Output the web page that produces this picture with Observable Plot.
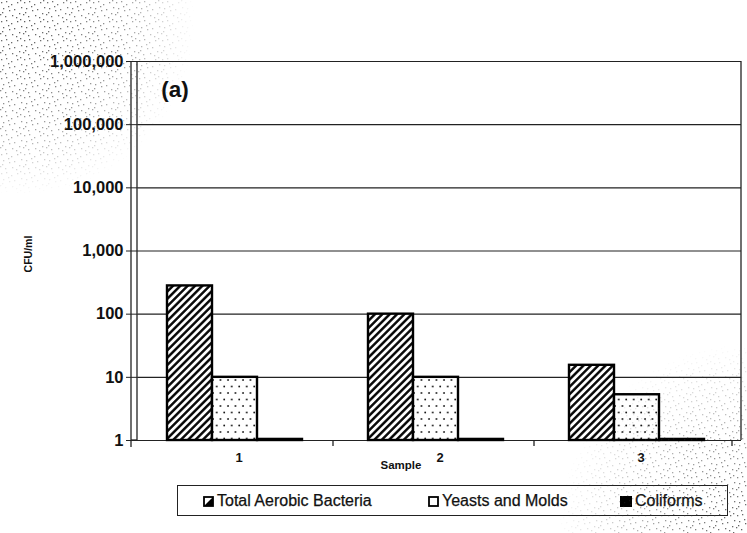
<!DOCTYPE html>
<html>
<head>
<meta charset="utf-8">
<script src="https://cdn.jsdelivr.net/npm/d3@7"></script>
<script src="https://cdn.jsdelivr.net/npm/@observablehq/plot@0.6"></script>
<style>
  body { margin: 0; background: #fff; font-family: Arial, "Liberation Sans", sans-serif; }
  #chart { position: relative; width: 747px; height: 533px; overflow: hidden; }
  #chart > svg { display: block; }
  .legend { position: absolute; left: 177px; top: 485px; width: 551px; height: 31px;
            border: 1.3px solid #222; box-sizing: border-box; font-size: 16px; color: #111;
            -webkit-text-stroke: 0.25px #111; background: #fff; }
  .legend .item { position: absolute; top: 6px; white-space: nowrap; line-height: 18px; }
  .legend .item svg { position: absolute; top: 4px; }
  .legend .item span { position: absolute; white-space: nowrap; }
  .grain { position: absolute; left: 0; top: 0; pointer-events: none; }
</style>
</head>
<body>
<div id="chart"></div>
<script>
// Microbial counts per sample (CFU/ml), log scale
const samples = ["1", "2", "3"];
const seriesNames = ["Total Aerobic Bacteria", "Yeasts and Molds", "Coliforms"];
const totalAerobicBacteria = [280, 100, 15.5];
const yeastsAndMolds = [10, 10, 5.3];
const coliforms = [1.04, 1.04, 1.04];
const yTickValues = [1, 10, 100, 1000, 10000, 100000, 1000000];
const seriesFills = ["url(#hatch)", "url(#dots)", "#000"];

const seriesValues = [totalAerobicBacteria, yeastsAndMolds, coliforms];
const rows = samples.flatMap((sample, i) =>
  seriesNames.map((series, j) => ({ sample, series, value: seriesValues[j][i] }))
);

const W = 747, H = 475;
const mLeft = 137, mRight = 6, mTop = 61, bottom = 440, mBottom = H - bottom;

const plot = Plot.plot({
  width: W,
  height: H,
  marginLeft: mLeft,
  marginRight: mRight,
  marginTop: mTop,
  marginBottom: mBottom,
  style: { fontFamily: "Arial, 'Liberation Sans', sans-serif", background: "transparent", color: "#111" },
  fx: { domain: samples, paddingInner: 0, paddingOuter: 0 },
  x: { domain: seriesNames, paddingInner: 0, paddingOuter: 0.69, align: 0.44, axis: null },
  y: { type: "log", domain: [1, 1e6] },
  color: { domain: seriesNames, range: seriesFills },
  marks: [
    Plot.gridY(yTickValues, { stroke: "#222", strokeOpacity: 1, strokeWidth: 1.1 }),
    Plot.barY(rows, {
      fx: "sample", x: "series", y1: 1, y2: "value",
      fill: "series", stroke: "#000", strokeWidth: 2.4
    }),
    Plot.axisY(yTickValues, {
      tickFormat: d3.format(","), tickSize: 12, tickPadding: 3,
      fontSize: 16.5, fontWeight: "bold", label: null, stroke: "#222"
    }),
    Plot.axisFx({ anchor: "bottom", tickSize: 0, tickPadding: 12, fontSize: 13, fontWeight: "bold", label: null })
  ]
});

const svg = d3.select(plot);

// fill patterns for the bars
const defs = svg.insert("defs", ":first-child");
const hatch = defs.append("pattern")
  .attr("id", "hatch").attr("patternUnits", "userSpaceOnUse")
  .attr("width", 5.2).attr("height", 5.2)
  .attr("patternTransform", "rotate(45)");
hatch.append("rect").attr("width", 5.2).attr("height", 5.2).attr("fill", "#fff");
hatch.append("line").attr("x1", 1.3).attr("x2", 1.3).attr("y1", 0).attr("y2", 5.2)
  .attr("stroke", "#000").attr("stroke-width", 2.4);
const dots = defs.append("pattern")
  .attr("id", "dots").attr("patternUnits", "userSpaceOnUse")
  .attr("width", 7.5).attr("height", 13);
dots.append("rect").attr("width", 7.5).attr("height", 13).attr("fill", "#fff");
dots.append("circle").attr("cx", 2).attr("cy", 3).attr("r", 0.9).attr("fill", "#111");
dots.append("circle").attr("cx", 5.75).attr("cy", 9.5).attr("r", 0.9).attr("fill", "#111");

// axis line, plot-area border and boundary ticks between samples
const g = svg.append("g").attr("stroke", "#222").attr("stroke-width", 1.3);
g.append("line").attr("x1", mLeft - 6).attr("x2", mLeft - 6).attr("y1", mTop).attr("y2", bottom + 7);
g.append("line").attr("x1", mLeft).attr("x2", mLeft).attr("y1", mTop).attr("y2", bottom);
g.append("line").attr("x1", W - mRight).attr("x2", W - mRight).attr("y1", mTop).attr("y2", bottom);
g.append("line").attr("x1", mLeft - 6).attr("x2", mLeft).attr("y1", bottom).attr("y2", bottom);
const fxScale = plot.scale("fx");
samples.slice(1).forEach(s => {
  const x = fxScale.apply(s) - 6;
  g.append("line").attr("x1", x).attr("x2", x).attr("y1", bottom).attr("y2", bottom + 6);
});
g.append("line").attr("x1", W - mRight - 9).attr("x2", W - mRight - 9).attr("y1", bottom).attr("y2", bottom + 6);

// panel tag, axis titles
svg.append("text").attr("x", 175).attr("y", 97)
  .attr("font-size", 22.5).attr("font-weight", "bold").attr("fill", "#111").text("(a)");
svg.append("text").attr("transform", `translate(32,254) rotate(-90)`)
  .attr("text-anchor", "middle").attr("font-size", 10.5).attr("font-weight", "bold")
  .attr("fill", "#111").text("CFU/ml");
svg.append("text").attr("x", 401).attr("y", 469)
  .attr("text-anchor", "middle").attr("font-size", 11.5).attr("font-weight", "bold")
  .attr("fill", "#111").text("Sample");

const chart = document.getElementById("chart");
chart.appendChild(plot);

// legend below the plot
const legend = document.createElement("div");
legend.className = "legend";
const iconLeft = [25, 250, 442];
const textOffset = [14, 14, 15];
const iconSvg = [
  `<svg width="11" height="11"><rect x="1" y="1" width="9" height="9" fill="#fff" stroke="#000" stroke-width="1.8"/><path d="M1 10 L10 1 L10 10 Z" fill="#000"/></svg>`,
  `<svg width="11" height="11"><rect x="1" y="1" width="9" height="9" fill="#fff" stroke="#000" stroke-width="1.8"/></svg>`,
  `<svg width="12" height="11"><rect x="0" y="0" width="12" height="11" fill="#000"/></svg>`
];
seriesNames.forEach((name, i) => {
  const item = document.createElement("div");
  item.className = "item";
  item.style.left = iconLeft[i] + "px";
  item.innerHTML = iconSvg[i] + `<span style="left:${textOffset[i]}px">${name}</span>`;
  legend.appendChild(item);
});
chart.appendChild(legend);

// scanner grain in the top-left and bottom-right corners
const grain = d3.select(chart).append("svg").attr("class", "grain")
  .attr("width", 747).attr("height", 533);
const gd = grain.append("defs");
const speck = gd.append("pattern").attr("id", "speck").attr("patternUnits", "userSpaceOnUse")
  .attr("width", 23).attr("height", 19);
[[1, 2], [6, 1], [11, 4], [17, 2], [21, 7], [3, 8], [9, 10], [14, 9], [19, 13],
 [0, 14], [5, 16], [12, 15], [16, 17], [8, 6], [20, 0], [2, 12]].forEach(([cx, cy]) =>
  speck.append("rect").attr("x", cx).attr("y", cy).attr("width", 1.3).attr("height", 1.3).attr("fill", "#333"));
const tl = gd.append("radialGradient").attr("id", "fadeTL").attr("gradientUnits", "userSpaceOnUse")
  .attr("cx", 20).attr("cy", 20).attr("r", 175);
tl.append("stop").attr("offset", 0).attr("stop-color", "#fff").attr("stop-opacity", 1);
tl.append("stop").attr("offset", 0.6).attr("stop-color", "#fff").attr("stop-opacity", 0.6);
tl.append("stop").attr("offset", 1).attr("stop-color", "#fff").attr("stop-opacity", 0);
const br = gd.append("radialGradient").attr("id", "fadeBR").attr("gradientUnits", "userSpaceOnUse")
  .attr("cx", 747).attr("cy", 533).attr("r", 190);
br.append("stop").attr("offset", 0).attr("stop-color", "#fff").attr("stop-opacity", 1);
br.append("stop").attr("offset", 0.5).attr("stop-color", "#fff").attr("stop-opacity", 0.55);
br.append("stop").attr("offset", 1).attr("stop-color", "#fff").attr("stop-opacity", 0);
const mask = gd.append("mask").attr("id", "grainMask");
mask.append("rect").attr("width", 747).attr("height", 533).attr("fill", "url(#fadeTL)");
mask.append("rect").attr("width", 747).attr("height", 533).attr("fill", "url(#fadeBR)");
grain.append("rect").attr("width", 747).attr("height", 533)
  .attr("fill", "url(#speck)").attr("mask", "url(#grainMask)").attr("opacity", 0.8);
</script>
</body>
</html>
